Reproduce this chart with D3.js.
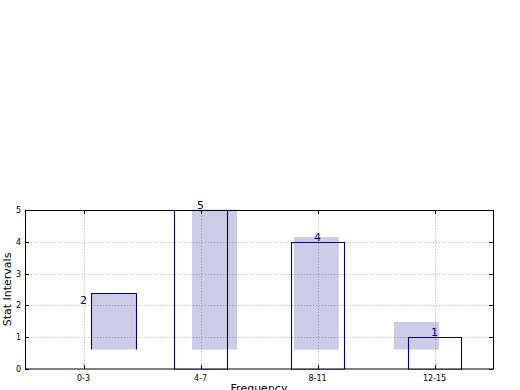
<!DOCTYPE html>
<html>
<head>
<meta charset="utf-8">
<script src="https://cdn.jsdelivr.net/npm/d3@7"></script>
<style>
	body { margin: 0; background: #fff; }
	svg { display: block; font-family: "DejaVu Sans", sans-serif; }
</style>
</head>
<body>
<svg id="chart" width="520" height="390"></svg>
<script>

// data
var categories = ["0-3", "4-7", "8-11", "12-15"];
var counts = [2, 5, 4, 1];
var yTicks = [0, 1, 2, 3, 4, 5];

// shaded spans, shifted off the category centre
var bandLow = [0.61, 0.61, 0.61, 0.61];
var bandHigh = [2.38, 5.03, 4.15, 1.48];
var bandShift = [0.26, 0.12, -0.01, -0.155];

var margin = {top: 210, right: 27, bottom: 21, left: 25};
var width = 520 - margin.left - margin.right;
var height = 390 - margin.top - margin.bottom;

var svg = d3.select("#chart");
var g = svg.append("g")
	.attr("transform", "translate(" + margin.left + "," + margin.top + ")");

var x = d3.scaleLinear().domain([-0.5, 3.5]).range([0, width]);
var y = d3.scaleLinear().domain([0, 5]).range([height, 0]);

var barW = 0.45;
var bandW = 0.385;

function px(v) { return Math.round(v) + 0.5; }

var clip = svg.append("defs").append("clipPath").attr("id", "plot");
clip.append("rect").attr("width", width + 1).attr("height", height + 1).attr("y", -0.5);

// Grid
g.selectAll(".gy").data(yTicks.slice(1, -1)).enter().append("line")
	.attr("x1", 0).attr("x2", width)
	.attr("y1", function (d) { return px(y(d)); })
	.attr("y2", function (d) { return px(y(d)); })
	.style("stroke", "#c2c2c2")
	.style("stroke-dasharray", "1.2,1.8");

g.selectAll(".gx").data(categories).enter().append("line")
	.attr("x1", function (d, i) { return px(x(i)); })
	.attr("x2", function (d, i) { return px(x(i)); })
	.attr("y1", 0).attr("y2", height)
	.style("stroke", "#c2c2c2")
	.style("stroke-dasharray", "1.2,1.8");

var plot = g.append("g").attr("clip-path", "url(#plot)");

// Outlined bars (the first one sits on its band)
plot.selectAll(".bar").data(counts).enter().append("path")
	.attr("d", function (d, i) {
		var x0, x1, y0, y1;
		if (i == 0) {
			x0 = px(x(i + bandShift[i] - bandW / 2));
			x1 = px(x(i + bandShift[i] + bandW / 2));
			y0 = y(bandLow[i]);
			y1 = px(y(bandHigh[i]));
			return "M" + x0 + "," + y0 + "V" + y1 + "H" + x1 + "V" + y0;
		}
		x0 = px(x(i - barW / 2));
		x1 = px(x(i + barW / 2));
		y0 = px(y(0));
		y1 = px(y(d));
		return "M" + x0 + "," + y0 + "V" + y1 + "H" + x1 + "V" + y0 + "Z";
	})
	.style("fill", "none")
	.style("stroke", "#000080")
	.style("stroke-width", 1.1);

// Shaded bands
plot.selectAll(".band").data(bandHigh).enter().append("rect")
	.attr("x", function (d, i) { return x(i + bandShift[i] - bandW / 2); })
	.attr("width", x(bandW) - x(0))
	.attr("y", function (d) { return y(d); })
	.attr("height", function (d, i) { return y(bandLow[i]) - y(d); })
	.style("fill", "#000080")
	.style("opacity", 0.2);

// Value labels
g.selectAll(".val").data(counts).enter().append("text")
	.attr("x", function (d, i) { return x(i); })
	.attr("y", function (d) { return y(d) - 1; })
	.attr("fill", "#000080")
	.style("font-size", "11px")
	.style("text-anchor", "middle")
	.text(function (d) { return d; });

// Ticks, inside on every side
var tickLen = 4;
yTicks.forEach(function (t) {
	var yy = px(y(t));
	g.append("line").attr("x1", 0).attr("x2", tickLen).attr("y1", yy).attr("y2", yy).style("stroke", "#000");
	g.append("line").attr("x1", width - tickLen).attr("x2", width).attr("y1", yy).attr("y2", yy).style("stroke", "#000");
	g.append("text")
		.attr("x", -4).attr("y", y(t) + 3)
		.style("font-size", "8px")
		.style("text-anchor", "end")
		.text(t);
});

categories.forEach(function (c, i) {
	var xx = px(x(i));
	g.append("line").attr("x1", xx).attr("x2", xx).attr("y1", height - tickLen).attr("y2", height).style("stroke", "#000");
	g.append("line").attr("x1", xx).attr("x2", xx).attr("y1", 0).attr("y2", tickLen).style("stroke", "#000");
	g.append("text")
		.attr("x", x(i)).attr("y", height + 12)
		.style("font-size", "8px")
		.style("text-anchor", "middle")
		.text(c);
});

// Frame
g.append("rect")
	.attr("x", 0.5).attr("y", 0.5)
	.attr("width", width).attr("height", height - 0.5)
	.style("fill", "none")
	.style("stroke", "#000")
	.style("stroke-width", 1);

// Axis titles (the x title runs off the bottom edge, as in the reference)
g.append("text")
	.attr("x", width / 2).attr("y", height + 23)
	.style("font-size", "11px")
	.style("text-anchor", "middle")
	.text("Frequency");

g.append("text")
	.attr("transform", "translate(" + (-14) + "," + (height / 2) + ") rotate(-90)")
	.style("font-size", "11px")
	.style("text-anchor", "middle")
	.text("Stat Intervals");

</script>
</body>
</html>
